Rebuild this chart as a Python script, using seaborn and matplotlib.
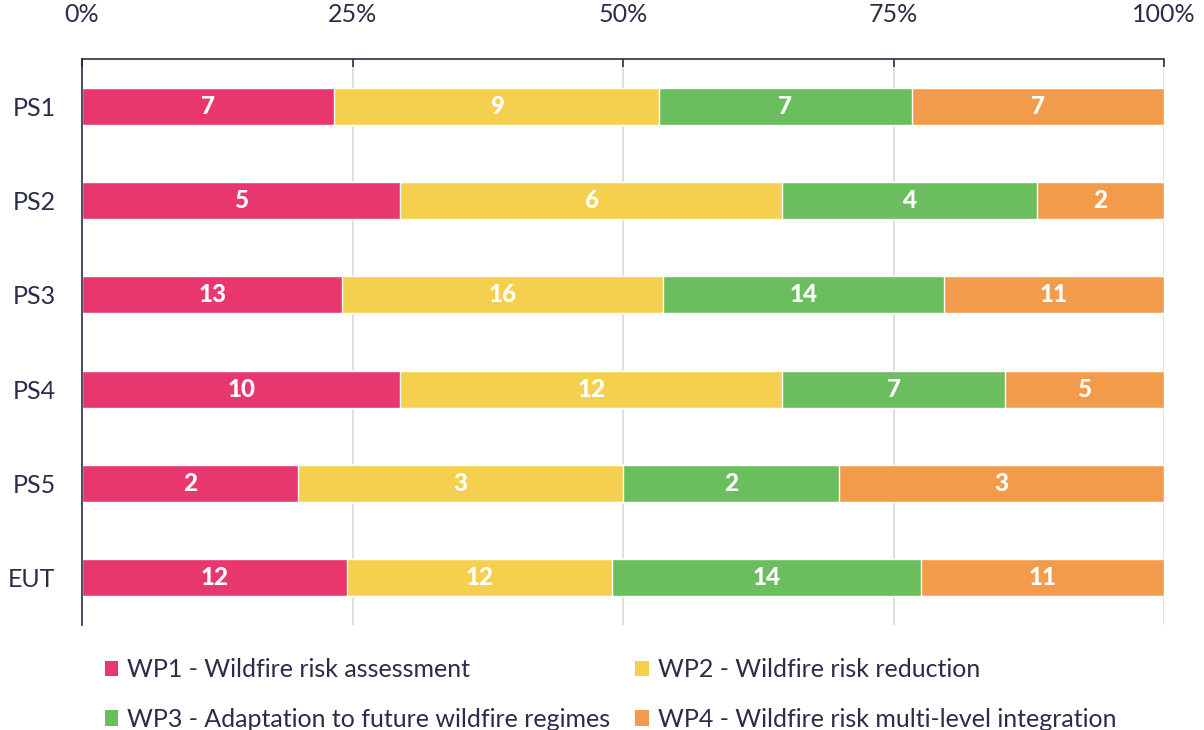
import numpy as np
import pandas as pd
import matplotlib
matplotlib.use("Agg")
import matplotlib.pyplot as plt
import seaborn as sns
from matplotlib.patches import Patch

categories = ["PS1", "PS2", "PS3", "PS4", "PS5", "EUT"]
wp1 = [7, 5, 13, 10, 2, 12]
wp2 = [9, 6, 16, 12, 3, 12]
wp3 = [7, 4, 14, 7, 2, 14]
wp4 = [7, 2, 11, 5, 3, 11]
series_names = ["WP1 - Wildfire risk assessment", "WP2 - Wildfire risk reduction",
                "WP3 - Adaptation to future wildfire regimes", "WP4 - Wildfire risk multi-level integration"]
colors = ["#E8366E", "#F4D04E", "#6BBE5E", "#F29B4A"]
tick_vals = [0, 25, 50, 75, 100]
tick_labels = ["0%", "25%", "50%", "75%", "100%"]

sns.set_theme(style="white")
plt.rcParams['font.family'] = ['Lato', 'DejaVu Sans']
text_color = "#2B2D48"

counts = np.array([wp1, wp2, wp3, wp4], dtype=float)
totals = counts.sum(axis=0)
pct = counts / totals * 100
cum = np.cumsum(pct, axis=0)

fig = plt.figure(figsize=(12.04, 7.3), dpi=100)
ax = fig.add_axes([82/1204, 1 - 625/730, (1164-82)/1204, (625-59)/730])

for i in range(3, -1, -1):
    df = pd.DataFrame({"cat": categories, "val": cum[i]})
    sns.barplot(data=df, x="val", y="cat", orient="h", color=colors[i],
                saturation=1, width=0.39, ax=ax, zorder=2)

for i in range(4):
    starts = cum[i] - pct[i]
    for j, c in enumerate(categories):
        ax.text(starts[j] + pct[i][j] / 2, j, f"{int(counts[i][j])}",
                ha="center", va="center", color="white", fontsize=17.5, fontweight=900, zorder=3)

ax.set_xlim(0, 100)
ax.set_ylim(5.5, -0.5)
ax.set_xticks(tick_vals)
ax.set_xticklabels(tick_labels)
ax.xaxis.tick_top()
ax.tick_params(axis="x", which="both", top=True, bottom=False, length=6, direction="in",
               width=1.2, color=text_color, pad=24, labelsize=18, labelcolor=text_color)
ax.tick_params(axis="y", length=0, pad=19, labelsize=18, labelcolor=text_color)
ax.set_xlabel("")
ax.set_ylabel("")
ax.grid(axis="x", color="#D9D9D9", linewidth=1.2, zorder=0)
ax.grid(axis="y", visible=False)
ax.set_axisbelow(True)
for s in ["right", "bottom"]:
    ax.spines[s].set_visible(False)
for s in ["left", "top"]:
    ax.spines[s].set_color(text_color)
    ax.spines[s].set_linewidth(1.2)

order = [0, 2, 1, 3]
handles = [Patch(facecolor=colors[i], edgecolor="none", label=series_names[i]) for i in order]
fig.legend(handles=handles, loc="lower left", bbox_to_anchor=(82/1204, -0.032), ncol=2,
           frameon=False, fontsize=18, labelcolor=text_color, handlelength=0.55, handleheight=0.55,
           handletextpad=0.35, columnspacing=1.0, labelspacing=1.07)

fig.savefig("out.png", dpi=100)
